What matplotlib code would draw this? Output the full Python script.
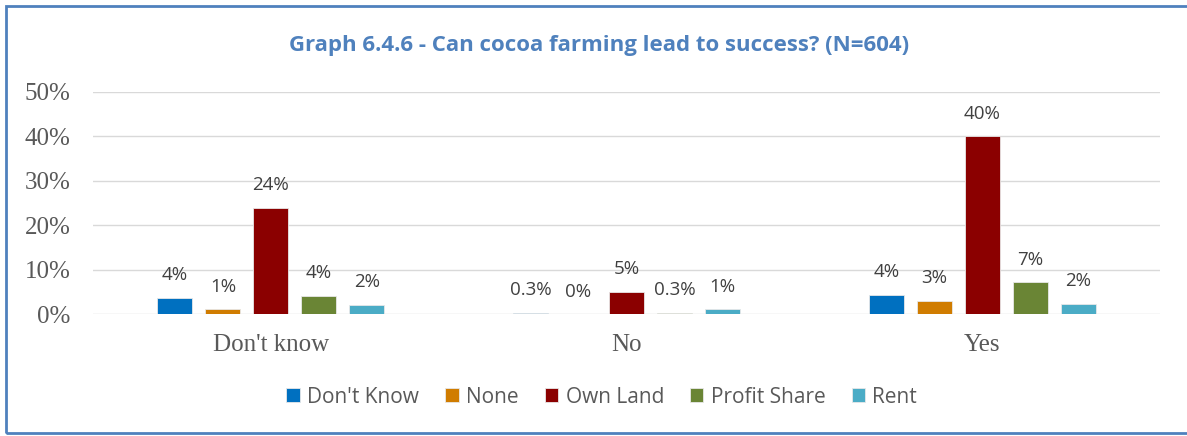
import numpy as np
import matplotlib
matplotlib.use("Agg")
import matplotlib.pyplot as plt
from matplotlib.patches import Rectangle

categories = ["Don't know", "No", "Yes"]
series = ["Don't Know", "None", "Own Land", "Profit Share", "Rent"]
colors = ["#0070C0", "#D07C00", "#8B0000", "#6A8535", "#4BACC6"]

# values in percent, one list per series (Don't know, No, Yes)
dont_know = [3.7, 0.3, 4.35]
none = [1.1, 0.0, 3.0]
own_land = [23.9, 5.0, 40.0]
profit_share = [4.1, 0.3, 7.2]
rent = [2.1, 1.1, 2.3]

y_ticks = [0, 10, 20, 30, 40, 50]


def fmt(v):
    if 0 < v < 1:
        return f"{v:.1f}%"
    return f"{v:.0f}%"


fig = plt.figure(figsize=(11.87, 4.36), dpi=100)
ax = fig.add_axes([0.0784, 0.2791, 0.8989, 0.5108])

x = np.arange(len(categories))
width = 0.0985
step = 0.135
data = [dont_know, none, own_land, profit_share, rent]

for i, (name, vals, c) in enumerate(zip(series, data, colors)):
    pos = x + (i - 2) * step
    ax.bar(pos, vals, width=width, color=c, edgecolor="#E8E8E8", linewidth=0.6,
           label=name, zorder=3)
    for px, v in zip(pos, vals):
        ax.annotate(fmt(v), (px, v), xytext=(0, 16.3), textcoords="offset points",
                    ha="center", va="center", fontsize=13.5, color="#404040",
                    family="Open Sans")

ax.set_ylim(0, 50)
ax.set_xlim(-0.5, 2.5)
ax.set_yticks(y_ticks)
ax.set_yticklabels([f"{t}%" for t in y_ticks], family="Liberation Serif",
                   fontsize=18, color="#595959")
ax.set_xticks(x)
ax.set_xticklabels(categories, family="Liberation Serif", fontsize=18,
                   color="#595959")
ax.tick_params(axis="both", length=0)
ax.tick_params(axis="y", pad=16)
ax.tick_params(axis="x", pad=14)
ax.grid(axis="y", color="#D9D9D9", linewidth=1, zorder=0)
for s in ax.spines.values():
    s.set_visible(False)

fig.text(0.505, 0.895, "Graph 6.4.6 - Can cocoa farming lead to success? (N=604)",
         ha="center", va="center", fontsize=16, fontweight="bold",
         color="#4F81BD", family="Open Sans")

leg = fig.legend(loc="center", bbox_to_anchor=(0.507, 0.089), ncol=5,
                 frameon=False, handlelength=0.65, handleheight=0.65,
                 handletextpad=0.35, columnspacing=1.25,
                 prop={"family": "Open Sans", "size": 15})
for t in leg.get_texts():
    t.set_color("#595959")

fig.patches.append(Rectangle((0.0053, 0.0069), 1.05, 0.9804, transform=fig.transFigure,
                             fill=False, edgecolor="#4F81BD", linewidth=2))

fig.savefig("out.png", dpi=100)
